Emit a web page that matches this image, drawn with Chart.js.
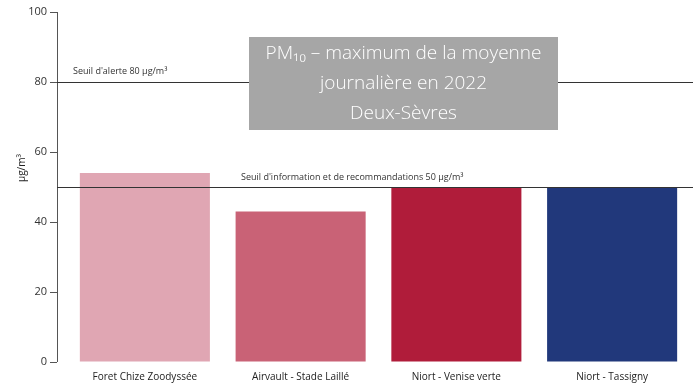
<!DOCTYPE html>
<html>
<head>
<meta charset="utf-8">
<script src="https://cdn.jsdelivr.net/npm/chart.js@4"></script>
<style>
  html, body { margin: 0; padding: 0; background: #fff; }
</style>
</head>
<body>
<canvas id="chart" width="693" height="388"></canvas>
<script>
// PM10 daily mean maxima per station, Deux-Sèvres 2022
const stations = ["Foret Chize Zoodyssée", "Airvault - Stade Laillé", "Niort - Venise verte", "Niort - Tassigny"];
const maxDaily = [54, 43, 50, 50];
const barColors = ["#e0a6b3", "#c96276", "#b01c3a", "#21387b"];
const yTicks = [0, 20, 40, 60, 80, 100];
const thresholds = [80, 50];
const thresholdLabels = ["Seuil d'alerte 80 µg/m³", "Seuil d'information et de recommandations 50 µg/m³"];
const titleLines = ["PM₁₀ – maximum de la moyenne", "journalière en 2022", "Deux-Sèvres"];

const FONT = "'Open Sans', 'Noto Sans', sans-serif";

// axis line, threshold lines and the grey title box
const decorations = {
  id: "decorations",
  afterDatasetsDraw(chart) {
    const { ctx, chartArea, scales } = chart;
    const y = scales.y;
    const axisX = chartArea.left - 10;
    ctx.save();

    // y axis line + ticks
    ctx.strokeStyle = "#555";
    ctx.lineWidth = 1;
    ctx.beginPath();
    ctx.moveTo(axisX + 0.5, y.getPixelForValue(yTicks[yTicks.length - 1]));
    ctx.lineTo(axisX + 0.5, y.getPixelForValue(yTicks[0]));
    yTicks.forEach(v => {
      const py = Math.round(y.getPixelForValue(v)) + 0.5;
      ctx.moveTo(axisX - 7, py);
      ctx.lineTo(axisX, py);
    });
    ctx.stroke();

    // threshold lines
    ctx.strokeStyle = "#333";
    ctx.lineWidth = 1.2;
    thresholds.forEach(v => {
      const py = Math.round(y.getPixelForValue(v)) + 0.5;
      ctx.beginPath();
      ctx.moveTo(axisX, py);
      ctx.lineTo(chart.width, py);
      ctx.stroke();
    });
    ctx.fillStyle = "#333";
    ctx.font = "9px " + FONT;
    ctx.textBaseline = "alphabetic";
    ctx.textAlign = "left";
    ctx.fillText(thresholdLabels[0], 73, y.getPixelForValue(thresholds[0]) - 8);
    ctx.fillText(thresholdLabels[1], 241, y.getPixelForValue(thresholds[1]) - 7);

    // y axis title
    ctx.save();
    ctx.translate(22, 168);
    ctx.rotate(-Math.PI / 2);
    ctx.textAlign = "center";
    ctx.textBaseline = "middle";
    ctx.font = "10px " + FONT;
    ctx.fillStyle = "#222";
    ctx.fillText("µg/m³", 0, 0);
    ctx.restore();

    // title box
    ctx.fillStyle = "#a6a6a6";
    ctx.fillRect(249, 37, 309, 93);
    ctx.fillStyle = "#fff";
    ctx.font = "300 19px " + FONT;
    ctx.textAlign = "center";
    ctx.textBaseline = "middle";
    titleLines.forEach((t, i) => ctx.fillText(t, 403.5, 54 + i * 30));

    ctx.restore();
  }
};

new Chart(document.getElementById("chart"), {
  type: "bar",
  data: {
    labels: stations,
    datasets: [{
      data: maxDaily,
      backgroundColor: barColors,
      borderWidth: 0,
      barPercentage: 0.835,
      categoryPercentage: 1.0
    }]
  },
  options: {
    responsive: false,
    animation: false,
    layout: { autoPadding: false, padding: { top: 12, right: 3, left: 0, bottom: 0 } },
    plugins: {
      legend: { display: false },
      tooltip: { enabled: false }
    },
    scales: {
      x: {
        afterFit(scale) { scale.height = 26; },
        grid: { display: false, drawTicks: false },
        border: { display: false },
        ticks: {
          color: "#222",
          font: { size: 10, family: FONT },
          padding: 9,
          maxRotation: 0
        }
      },
      y: {
        min: yTicks[0],
        max: yTicks[yTicks.length - 1],
        afterFit(scale) { scale.width = 67; },
        // invisible tick marks only push the labels left of the drawn axis
        grid: { display: true, drawOnChartArea: false, drawTicks: true, tickLength: 17, color: "transparent" },
        border: { display: false },
        ticks: {
          stepSize: 20,
          color: "#333",
          font: { size: 11, family: FONT },
          padding: 3
        }
      }
    }
  },
  plugins: [decorations]
});
</script>
</body>
</html>
